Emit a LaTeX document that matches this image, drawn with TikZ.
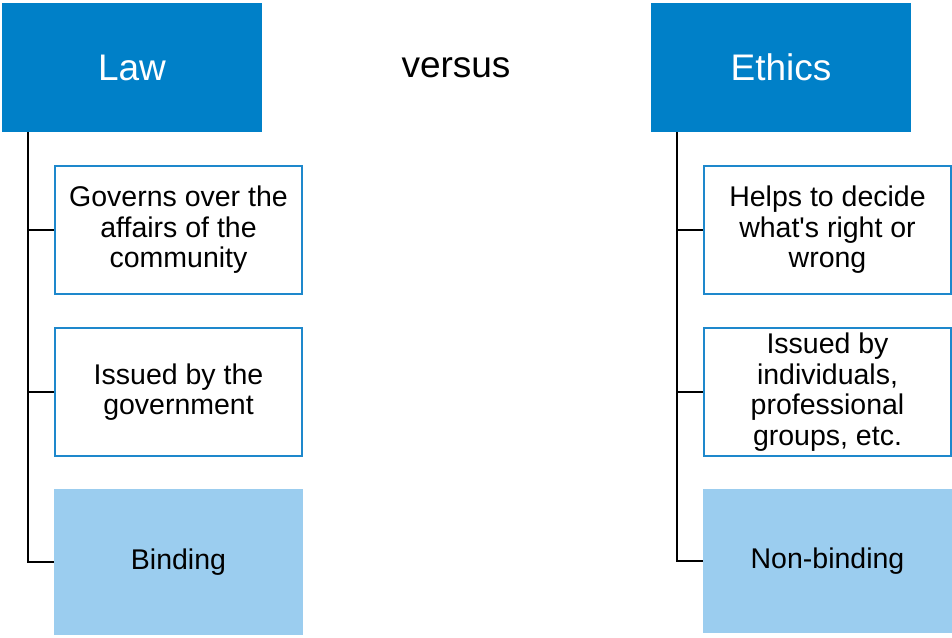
\documentclass[tikz,border=0pt]{standalone}
\usepackage{fontspec}
\setmainfont{Liberation Sans}
\usetikzlibrary{calc}
\definecolor{hdblue}{HTML}{0080C8}
\definecolor{ltblue}{HTML}{9BCDEF}
\definecolor{bdblue}{HTML}{1E88CC}
\tikzset{
  head/.style={fill=hdblue, draw=none, text=white, minimum width=260pt, minimum height=129pt, inner sep=0pt, font=\fontsize{37}{40}\selectfont},
  itembox/.style={draw=bdblue, line width=2.2pt, fill=white, minimum width=247pt, minimum height=128pt, inner sep=0pt, align=center, font=\fontsize{28.5}{30.5}\selectfont},
  fillbox/.style={fill=ltblue, draw=none, minimum width=249pt, inner sep=0pt, align=center, font=\fontsize{28.5}{30.5}\selectfont},
  conn/.style={draw=black, line width=2pt}
}
\begin{document}
\begin{tikzpicture}[x=1pt,y=-1pt]
\useasboundingbox (0,0) rectangle (952,637);
% headers
\node[head] (law) at (132,67.5) {Law};
\node[head] (eth) at (781,67.5) {Ethics};
\node[font=\fontsize{37}{40}\selectfont, anchor=base, inner sep=0pt] (vs) at (456,77) {versus};
% left items
\node[itembox] (l1) at (178.5,230) {Governs over the\\affairs of the\\community};
\node[itembox] (l2) at (178.5,392) {Issued by the\\government};
\node[fillbox, minimum height=146pt] (l3) at (178.5,562) {Binding};
% right items
\node[itembox] (r1) at (827.5,230) {Helps to decide\\what\textquotesingle s right or\\wrong};
\node[itembox] (r2) at (827.5,392) {Issued by\\individuals,\\professional\\groups, etc.};
\node[fillbox, minimum height=144pt] (r3) at (827.5,561) {Non-binding};
% connectors
\coordinate (lt) at ($(law.south west)+(26,0)$);
\coordinate (rt) at ($(eth.south west)+(26,0)$);
\draw[conn] (lt) |- (l3.west);
\draw[conn] (lt |- l1.west) -- (l1.west);
\draw[conn] (lt |- l2.west) -- (l2.west);
\draw[conn] (rt) |- (r3.west);
\draw[conn] (rt |- r1.west) -- (r1.west);
\draw[conn] (rt |- r2.west) -- (r2.west);
\end{tikzpicture}
\end{document}
